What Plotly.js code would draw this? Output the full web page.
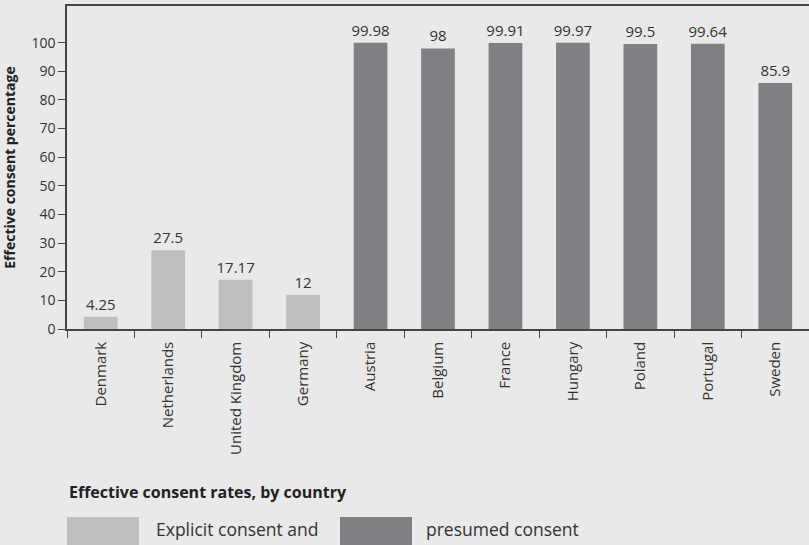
<!DOCTYPE html>
<html><head><meta charset="utf-8">
<script src="https://cdn.plot.ly/plotly-3.0.1.min.js"></script>
<style>html,body{margin:0;padding:0;background:#e8e9e8;}</style>
</head><body>
<div id="chart" style="width:809px;height:545px;"></div>
<script>
const countries = ["Denmark","Netherlands","United Kingdom","Germany","Austria","Belgium","France","Hungary","Poland","Portugal","Sweden"];
const consent = [4.25, 27.5, 17.17, 12, 99.98, 98, 99.91, 99.97, 99.5, 99.64, 85.9];
const consentLabels = ["4.25","27.5","17.17","12","99.98","98","99.91","99.97","99.5","99.64","85.9"];
const systemType = ["explicit","explicit","explicit","explicit","presumed","presumed","presumed","presumed","presumed","presumed","presumed"];
const legendTitle = "Effective consent rates, by country";
const legendLabels = ["Explicit consent and", "presumed consent"];
const colors = {explicit: "#bebfc0", presumed: "#7f8083"};

const trace = {
  type: "bar",
  x: countries,
  y: consent,
  text: consentLabels,
  textposition: "outside",
  constraintext: "none",
  cliponaxis: false,
  textfont: {family: "Open Sans, sans-serif", size: 15, color: "#333"},
  marker: {color: systemType.map(s => colors[s])},
  hoverinfo: "x+y",
  showlegend: false
};

const font = "Open Sans, sans-serif";
const PW = 742, PH = 323;
const layout = {
  width: 809, height: 545,
  paper_bgcolor: "#e8e9e8",
  plot_bgcolor: "#e8e9e8",
  margin: {l: 67, r: 0, t: 6, b: 216},
  bargap: 0.5,
  font: {family: font, color: "#333"},
  xaxis: {
    type: "category",
    showline: true, linecolor: "#444", linewidth: 1.5, mirror: true,
    ticks: "outside", tickson: "boundaries", ticklen: 7, tickcolor: "#444", tickwidth: 1,
    tickangle: -90, ticklabelstandoff: 5,
    tickfont: {family: font, size: 15, color: "#333"},
    showgrid: false, zeroline: false
  },
  yaxis: {
    range: [0, 112.8],
    showline: true, linecolor: "#444", linewidth: 1.5,
    ticks: "outside", ticklen: 7, tickcolor: "#444",
    tickvals: [0,10,20,30,40,50,60,70,80,90,100],
    tickfont: {family: font, size: 14, color: "#333"},
    showgrid: false, zeroline: false,
    title: {text: "<b>Effective consent percentage</b>", font: {family: font, size: 14, color: "#222"}, standoff: 14}
  },
  shapes: [
    {type: "rect", xref: "paper", yref: "paper", x0: 0, x1: 72/PW, y0: -216/PH, y1: -188/PH,
     fillcolor: colors.explicit, line: {width: 0}},
    {type: "rect", xref: "paper", yref: "paper", x0: 273/PW, x1: 345/PW, y0: -216/PH, y1: -188/PH,
     fillcolor: colors.presumed, line: {width: 0}}
  ],
  annotations: [
    {xref: "paper", yref: "paper", x: 0, y: -163/PH, xanchor: "left", yanchor: "middle",
     text: "<b>" + legendTitle + "</b>", showarrow: false, font: {family: font, size: 16, color: "#222"}},
    {xref: "paper", yref: "paper", x: 87/PW, y: -200/PH, xanchor: "left", yanchor: "middle",
     text: legendLabels[0], showarrow: false, font: {family: font, size: 17.5, color: "#333"}},
    {xref: "paper", yref: "paper", x: 357/PW, y: -200/PH, xanchor: "left", yanchor: "middle",
     text: legendLabels[1], showarrow: false, font: {family: font, size: 17.5, color: "#333"}}
  ]
};

Plotly.newPlot("chart", [trace], layout, {displayModeBar: false, responsive: false});
</script>
</body></html>
